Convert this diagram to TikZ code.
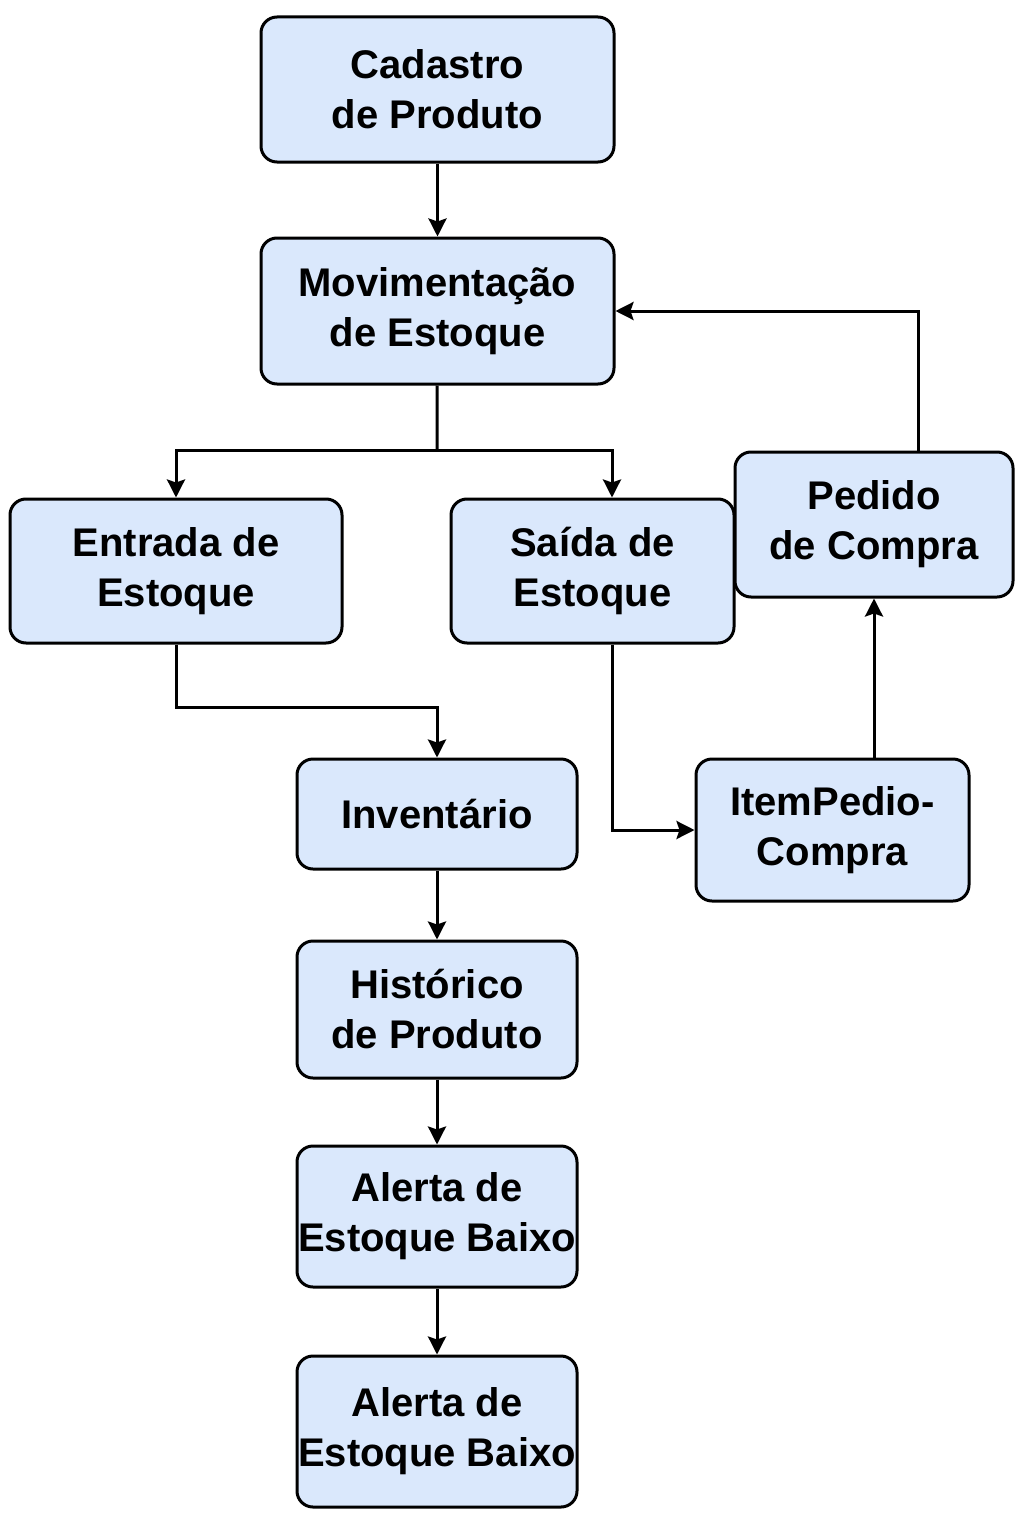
\documentclass[tikz,border=0pt]{standalone}
\usepackage{fontspec}
\setmainfont{Liberation Sans}
\usetikzlibrary{arrows.meta,positioning}
\definecolor{boxblue}{HTML}{DAE8FC}

\begin{document}
\begin{tikzpicture}[x=0.5pt, y=-0.5pt,
  box/.style = {draw, line width=1.5pt, fill=boxblue, rounded corners=8pt,
                align=center, inner sep=0pt,
                font=\fontsize{20}{25}\selectfont\bfseries},
  arr/.style = {line width=1.5pt, -{Stealth[length=9pt,width=9pt,inset=1.5pt]}},
  ln/.style  = {line width=1.5pt}]
\useasboundingbox (0,0) rectangle (1024,1536);

\node[box, minimum width=176.5pt, minimum height=72.5pt] (cad) at (437.5,89.5) {Cadastro\\de Produto};
\node[box, minimum width=176.5pt, minimum height=73pt] (mov) at (437.5,311) {Movimentação\\de Estoque};
\node[box, minimum width=166pt, minimum height=72pt] (ent) at (176,571) {Entrada de\\Estoque};
\node[box, minimum width=141.5pt, minimum height=72pt] (sai) at (592.5,571) {Saída de\\Estoque};
\node[box, minimum width=139pt, minimum height=72.5pt] (ped) at (874,524.5) {Pedido\\de Compra};
\node[box, minimum width=140pt, minimum height=55pt] (inv) at (437,814) {Inventário};
\node[box, minimum width=136.5pt, minimum height=71pt] (item) at (832.5,830) {ItemPedio-\\Compra};
\node[box, minimum width=140pt, minimum height=68.5pt] (his) at (437,1009.5) {Histórico\\de Produto};
\node[box, minimum width=140pt, minimum height=70.5pt] (al1) at (437,1216.5) {Alerta de\\Estoque Baixo};
\node[box, minimum width=140pt, minimum height=75.5pt] (al2) at (437,1431.5) {Alerta de\\Estoque Baixo};

\coordinate (split) at (437,450);

\draw[arr] (cad) -- (mov);
\draw[ln] (mov) -- (split);
\draw[arr] (split) -| (ent.north);
\draw[arr] (split) -| ([xshift=9.75pt]sai.north);
\draw[arr] ([xshift=22pt]ped.north) |- (mov.east);
\draw[arr] (ent.south) -- ++(0,63) -| (inv.north);
\draw[arr] ([xshift=9.75pt]sai.south) |- (item.west);
\draw[arr] (item.north -| ped.south) -- (ped.south);
\draw[arr] (inv) -- (his);
\draw[arr] (his) -- (al1);
\draw[arr] (al1) -- (al2);

\end{tikzpicture}
\end{document}
